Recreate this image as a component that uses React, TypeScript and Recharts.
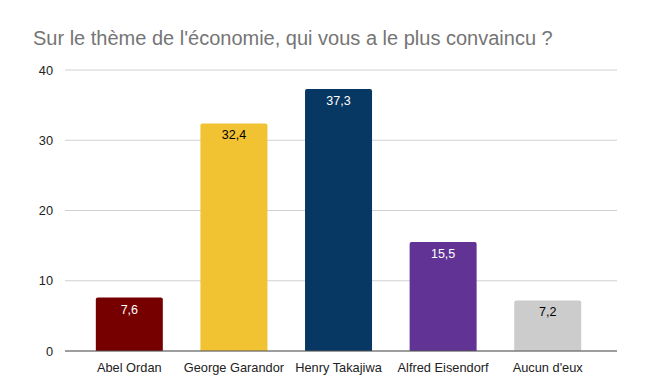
import { BarChart, Bar, XAxis, YAxis, CartesianGrid, Cell, LabelList } from "recharts";

const candidates = ["Abel Ordan", "George Garandor", "Henry Takajiwa", "Alfred Eisendorf", "Aucun d'eux"];
const scores = [7.6, 32.4, 37.3, 15.5, 7.2];
const barColors = ["#760000", "#f1c232", "#073763", "#613394", "#cccccc"];
const labelColors = ["#ffffff", "#000000", "#ffffff", "#ffffff", "#000000"];
const yTicks = [0, 10, 20, 30, 40];

const data = candidates.map((name, i) => ({ name, score: scores[i] }));

const font = "'Liberation Sans', Arial, sans-serif";

const renderLabel = (props: any) => {
  const { x, y, width, value, index } = props;
  return (
    <text
      x={x + width / 2}
      y={y + 16}
      textAnchor="middle"
      fontSize={12.5}
      fontFamily={font}
      fill={labelColors[index]}
    >
      {String(value).replace(".", ",")}
    </text>
  );
};

export default function App() {
  return (
    <div style={{ position: "relative", width: 654, height: 385, background: "#fff", fontFamily: font }}>
      <style>{"body{margin:0}"}</style>
      <div
        style={{
          position: "absolute",
          left: 33,
          top: 27,
          fontSize: 20,
          color: "#757575",
          fontFamily: font,
          whiteSpace: "nowrap",
        }}
      >
        Sur le thème de l'économie, qui vous a le plus convaincu ?
      </div>
      <BarChart
        width={654}
        height={385}
        data={data}
        margin={{ top: 70, right: 37, left: 0, bottom: 4 }}
        barCategoryGap="18%"
      >
        <CartesianGrid vertical={false} stroke="#d0d0d0" />
        <XAxis
          dataKey="name"
          padding={{ left: 12, right: 17 }}
          height={30}
          tickLine={false}
          tickSize={0}
          tickMargin={12}
          axisLine={{ stroke: "#555", strokeWidth: 1 }}
          tick={{ fontSize: 12.8, fill: "#222", fontFamily: font }}
          interval={0}
        />
        <YAxis
          width={65}
          domain={[0, 40]}
          ticks={yTicks}
          axisLine={false}
          tickLine={false}
          tickSize={0}
          tickMargin={12}
          tick={{ fontSize: 12.8, fill: "#222", fontFamily: font }}
        />
        <Bar dataKey="score" isAnimationActive={false} radius={[2, 2, 0, 0]}>
          {data.map((d, i) => (
            <Cell key={d.name} fill={barColors[i]} />
          ))}
          <LabelList dataKey="score" content={renderLabel} />
        </Bar>
      </BarChart>
    </div>
  );
}
